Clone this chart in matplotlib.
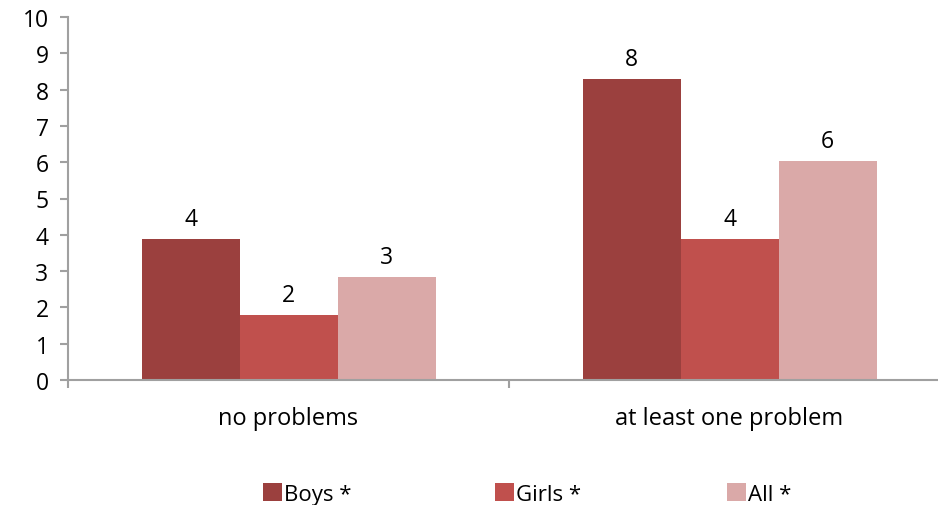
import matplotlib
matplotlib.use("Agg")
import matplotlib.pyplot as plt
import numpy as np

plt.rcParams['font.family'] = ['Open Sans', 'DejaVu Sans']

categories = ["no problems", "at least one problem"]
series_names = ["Boys *", "Girls *", "All *"]
boys = [3.88, 8.29]
girls = [1.79, 3.88]
all_ = [2.84, 6.03]
labels_boys = ["4", "8"]
labels_girls = ["2", "4"]
labels_all = ["3", "6"]
y_ticks = list(range(0, 11))

colors = ["#9B403E", "#C0504D", "#DAA9A8"]

W, H = 938, 506
fig = plt.figure(figsize=(W / 100, H / 100), dpi=100)
left_px, right_px = 68, 950
bottom_px, top_px = 381, 18
ax = fig.add_axes([left_px / W, (H - bottom_px) / H, (right_px - left_px) / W, (bottom_px - top_px) / H])

bw = 98 / 441
x = np.arange(len(categories))
all_series = [boys, girls, all_]
all_labels = [labels_boys, labels_girls, labels_all]
handles = []
for i, (vals, labs) in enumerate(zip(all_series, all_labels)):
    pos = x + (i - 1) * bw
    bars = ax.bar(pos, vals, width=bw, color=colors[i], label=series_names[i], zorder=2)
    handles.append(bars)
    for b, lab in zip(bars, labs):
        ax.annotate(lab, (b.get_x() + b.get_width() / 2, b.get_height()),
                    xytext=(0, 6), textcoords='offset points', ha='center', va='bottom',
                    fontsize=16.5, color='black')

ax.set_xlim(-0.5, 1.5)
ax.set_ylim(0, 10)
ax.set_yticks(y_ticks)
ax.set_yticklabels([str(t) for t in y_ticks], fontsize=16.5)

ax.set_xticks([-0.5, 0.5, 1.5])
ax.set_xticklabels([])
ax.set_xticks(x, minor=True)
ax.set_xticklabels(categories, minor=True, fontsize=17)
ax.tick_params(axis='x', which='minor', length=0, pad=19)
ax.tick_params(axis='x', which='major', length=6, color='#A0A0A0', width=1.5)
ax.tick_params(axis='y', length=6, color='#A0A0A0', width=1.5, pad=8)

for s in ['top', 'right']:
    ax.spines[s].set_visible(False)
for s in ['left', 'bottom']:
    ax.spines[s].set_color('#A0A0A0')
    ax.spines[s].set_linewidth(1.5)

legend_x_px = [263, 495, 727]
for h, name, lx in zip(handles, series_names, legend_x_px):
    fig.legend(handles=[h], labels=[name], loc='center left',
               bbox_to_anchor=(lx / W, 1 - 495 / H), frameon=False,
               fontsize=16, handlelength=0.85, handleheight=0.85, handletextpad=0.1,
               borderpad=0, borderaxespad=0)

fig.savefig("out.png", dpi=100)
